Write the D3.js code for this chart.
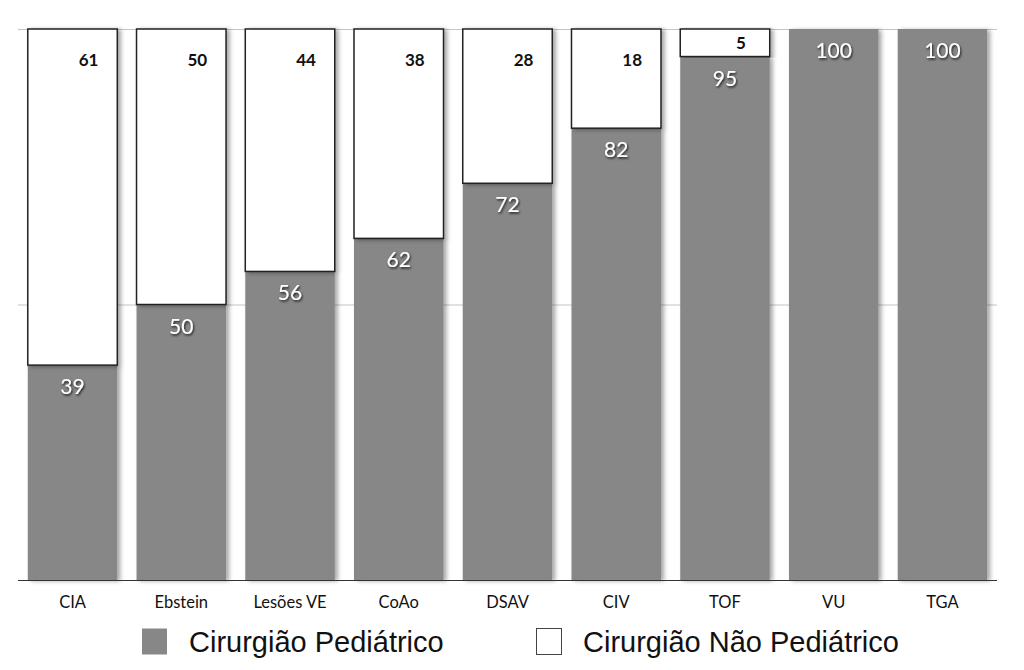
<!DOCTYPE html>
<html>
<head>
<meta charset="utf-8">
<script src="https://cdn.jsdelivr.net/npm/d3@7"></script>
<style>
  body { margin: 0; background: #fff; }
</style>
</head>
<body>
<div id="chart"></div>
<script>
// data
const categories = ['CIA', 'Ebstein', 'Lesões VE', 'CoAo', 'DSAV', 'CIV', 'TOF', 'VU', 'TGA'];
const pediatrico = [39, 50, 56, 62, 72, 82, 95, 100, 100];
const naoPediatrico = [61, 50, 44, 38, 28, 18, 5, 0, 0];
const seriesNames = ['Cirurgião Pediátrico', 'Cirurgião Não Pediátrico'];
const gridTicks = [50, 100];

const width = 1024, height = 670;
const plot = {left: 18, right: 997, top: 29, bottom: 580};
const gray = '#878787';

let svg = d3.select('#chart').append('svg')
  .attr('width', width)
  .attr('height', height);

let defs = svg.append('defs');
defs.append('filter').attr('id', 'barShadow')
  .attr('x', '-10%').attr('y', '-5%').attr('width', '130%').attr('height', '110%')
  .append('feDropShadow')
  .attr('dx', 3).attr('dy', 1).attr('stdDeviation', 2)
  .attr('flood-color', '#000').attr('flood-opacity', 0.35);
defs.append('filter').attr('id', 'textShadow')
  .attr('x', '-20%').attr('y', '-20%').attr('width', '150%').attr('height', '150%')
  .append('feDropShadow')
  .attr('dx', 1).attr('dy', 1.5).attr('stdDeviation', 1)
  .attr('flood-color', '#000').attr('flood-opacity', 0.8);

let x = d3.scaleBand().domain(categories).range([plot.left, plot.right])
  .paddingInner(0.177).paddingOuter(0.09);
let y = d3.scaleLinear().domain([0, 100]).range([plot.bottom, plot.top]);

let data = categories.map((c, i) => ({cat: c, ped: pediatrico[i], nao: naoPediatrico[i]}));

// gridlines
svg.append('g').selectAll('line')
  .data(gridTicks)
  .enter().append('line')
  .attr('x1', plot.left).attr('x2', plot.right)
  .attr('y1', d => y(d) + 0.5).attr('y2', d => y(d) + 0.5)
  .attr('stroke', '#c4c4c4').attr('stroke-width', 1);

// gray bars (pediatric)
svg.append('g').selectAll('rect')
  .data(data)
  .enter().append('rect')
  .attr('x', d => x(d.cat))
  .attr('y', d => y(d.ped))
  .attr('width', x.bandwidth())
  .attr('height', d => plot.bottom - y(d.ped))
  .attr('fill', gray)
  .attr('filter', 'url(#barShadow)');

// white bars (non-pediatric), stacked on top
let nao = data.filter(d => d.nao > 0);
svg.append('g').selectAll('rect')
  .data(nao)
  .enter().append('rect')
  .attr('x', d => x(d.cat))
  .attr('y', d => y(d.ped + d.nao))
  .attr('width', x.bandwidth())
  .attr('height', d => y(d.ped) - y(d.ped + d.nao))
  .attr('fill', '#fff')
  .attr('stroke', '#222')
  .attr('stroke-width', 1.5)
  .attr('filter', 'url(#barShadow)');

// axis line
svg.append('line')
  .attr('x1', plot.left).attr('x2', plot.right)
  .attr('y1', plot.bottom + 0.5).attr('y2', plot.bottom + 0.5)
  .attr('stroke', '#333').attr('stroke-width', 1.2);

// value labels, gray segments
svg.append('g').selectAll('text')
  .data(data)
  .enter().append('text')
  .attr('x', d => x(d.cat) + x.bandwidth() / 2)
  .attr('y', d => y(d.ped) + 29)
  .attr('text-anchor', 'middle')
  .attr('font-family', 'Lato, sans-serif')
  .attr('font-size', 21)
  .attr('fill', '#fff')
  .attr('filter', 'url(#textShadow)')
  .text(d => d.ped);

// value labels, white segments
svg.append('g').selectAll('text')
  .data(nao)
  .enter().append('text')
  .attr('x', d => x(d.cat) + x.bandwidth() / 2 + 16)
  .attr('y', d => {
    let t = y(d.ped + d.nao), h = y(d.ped) - t;
    return t + Math.min(37, h / 2 + 6);
  })
  .attr('text-anchor', 'middle')
  .attr('font-family', 'Lato, sans-serif')
  .attr('font-weight', 'bold')
  .attr('font-size', 17)
  .attr('fill', '#111')
  .text(d => d.nao);

// category labels
svg.append('g').selectAll('text')
  .data(categories)
  .enter().append('text')
  .attr('x', d => x(d) + x.bandwidth() / 2)
  .attr('y', 608)
  .attr('text-anchor', 'middle')
  .attr('font-family', 'Lato, sans-serif')
  .attr('font-size', 16.5)
  .attr('fill', '#111')
  .text(d => d);

// legend
let legendX = [142, 536];
let legend = svg.append('g').selectAll('g')
  .data(seriesNames)
  .enter().append('g')
  .attr('transform', (d, i) => 'translate(' + legendX[i] + ',628)');
legend.append('rect')
  .attr('x', (d, i) => i ? 0.5 : 0).attr('y', 0.5)
  .attr('width', 25).attr('height', 26)
  .attr('fill', (d, i) => i ? '#fff' : gray)
  .attr('stroke', (d, i) => i ? '#444' : 'none')
  .attr('stroke-width', 1);
legend.append('text')
  .attr('x', 47).attr('y', 24)
  .attr('font-family', '"Liberation Sans", Arial, sans-serif')
  .attr('font-size', 29)
  .attr('fill', '#111')
  .text(d => d);
</script>
</body>
</html>
